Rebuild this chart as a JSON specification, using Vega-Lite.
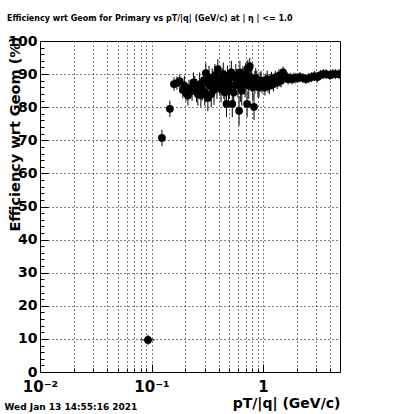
{
  "$schema": "https://vega.github.io/schema/vega-lite/v6.json",
  "width": 300,
  "height": 331,
  "autosize": "none",
  "padding": {"left": 40, "top": 41, "right": 60, "bottom": 42},
  "background": "white",
  "config": {
    "view": {"stroke": "black", "strokeWidth": 1},
    "font": "DejaVu Sans",
    "axis": {"domain": false, "grid": false, "ticks": false, "labels": false, "title": null, "tickColor": "black", "labelColor": "black", "titleColor": "black"}
  },
  "title": {
    "text": "Efficiency wrt Geom for Primary vs pT/|q| (GeV/c) at | η | <= 1.0",
    "anchor": "start",
    "frame": "group",
    "dx": -33,
    "offset": 11,
    "fontSize": 8,
    "fontWeight": "bold",
    "font": "DejaVu Sans",
    "color": "black"
  },
  "datasets": {
    "pts": [
      {"x": 0.093, "y": 9.7, "ey": 1.5},
      {"x": 0.124, "y": 70.7, "ey": 2.5},
      {"x": 0.146, "y": 79.5, "ey": 2.5},
      {"x": 0.159, "y": 87.0, "ey": 2.0},
      {"x": 0.169, "y": 87.3, "ey": 2.0},
      {"x": 0.179, "y": 87.9, "ey": 2.0},
      {"x": 0.191, "y": 85.2, "ey": 2.5},
      {"x": 0.197, "y": 86.5, "ey": 3.0},
      {"x": 0.204, "y": 84.3, "ey": 2.5},
      {"x": 0.212, "y": 83.5, "ey": 3.0},
      {"x": 0.217, "y": 85.8, "ey": 2.5},
      {"x": 0.231, "y": 84.9, "ey": 3.0},
      {"x": 0.238, "y": 87.5, "ey": 3.0},
      {"x": 0.245, "y": 86.4, "ey": 3.0},
      {"x": 0.253, "y": 85.0, "ey": 3.5},
      {"x": 0.26, "y": 84.0, "ey": 3.5},
      {"x": 0.27, "y": 87.0, "ey": 3.5},
      {"x": 0.277, "y": 83.6, "ey": 3.5},
      {"x": 0.285, "y": 85.5, "ey": 3.5},
      {"x": 0.295, "y": 88.2, "ey": 3.0},
      {"x": 0.3, "y": 84.5, "ey": 4.0},
      {"x": 0.307, "y": 90.3, "ey": 3.0},
      {"x": 0.315, "y": 87.5, "ey": 3.5},
      {"x": 0.32, "y": 82.8, "ey": 4.0},
      {"x": 0.328, "y": 89.0, "ey": 3.5},
      {"x": 0.335, "y": 86.4, "ey": 3.5},
      {"x": 0.343, "y": 84.0, "ey": 4.0},
      {"x": 0.35, "y": 88.7, "ey": 3.0},
      {"x": 0.357, "y": 87.5, "ey": 3.5},
      {"x": 0.363, "y": 85.2, "ey": 4.5},
      {"x": 0.37, "y": 89.5, "ey": 3.5},
      {"x": 0.379, "y": 88.2, "ey": 3.0},
      {"x": 0.386, "y": 86.0, "ey": 3.5},
      {"x": 0.393, "y": 91.5, "ey": 3.0},
      {"x": 0.40, "y": 88.0, "ey": 3.5},
      {"x": 0.41, "y": 87.0, "ey": 3.5},
      {"x": 0.42, "y": 85.5, "ey": 4.0},
      {"x": 0.43, "y": 88.8, "ey": 3.0},
      {"x": 0.44, "y": 90.0, "ey": 3.5},
      {"x": 0.445, "y": 86.1, "ey": 3.5},
      {"x": 0.455, "y": 84.5, "ey": 4.0},
      {"x": 0.46, "y": 88.2, "ey": 3.0},
      {"x": 0.47, "y": 81.0, "ey": 4.0},
      {"x": 0.48, "y": 89.0, "ey": 3.5},
      {"x": 0.49, "y": 85.8, "ey": 4.5},
      {"x": 0.50, "y": 86.5, "ey": 4.0},
      {"x": 0.51, "y": 88.8, "ey": 3.0},
      {"x": 0.52, "y": 90.5, "ey": 3.5},
      {"x": 0.53, "y": 81.0, "ey": 4.0},
      {"x": 0.545, "y": 84.5, "ey": 4.5},
      {"x": 0.56, "y": 86.7, "ey": 3.5},
      {"x": 0.57, "y": 89.5, "ey": 3.5},
      {"x": 0.58, "y": 88.5, "ey": 3.0},
      {"x": 0.595, "y": 87.0, "ey": 4.0},
      {"x": 0.61, "y": 78.9, "ey": 4.5},
      {"x": 0.62, "y": 90.5, "ey": 3.5},
      {"x": 0.63, "y": 86.1, "ey": 4.5},
      {"x": 0.645, "y": 85.0, "ey": 4.5},
      {"x": 0.66, "y": 89.4, "ey": 3.0},
      {"x": 0.675, "y": 88.0, "ey": 4.0},
      {"x": 0.69, "y": 87.0, "ey": 4.0},
      {"x": 0.70, "y": 90.0, "ey": 3.5},
      {"x": 0.72, "y": 81.0, "ey": 4.0},
      {"x": 0.73, "y": 91.8, "ey": 2.5},
      {"x": 0.745, "y": 86.5, "ey": 4.0},
      {"x": 0.76, "y": 92.4, "ey": 2.5},
      {"x": 0.775, "y": 89.0, "ey": 3.5},
      {"x": 0.79, "y": 88.2, "ey": 3.5},
      {"x": 0.81, "y": 86.0, "ey": 4.0},
      {"x": 0.83, "y": 80.1, "ey": 4.0},
      {"x": 0.845, "y": 87.5, "ey": 3.5},
      {"x": 0.86, "y": 88.8, "ey": 3.0},
      {"x": 0.88, "y": 88.0, "ey": 3.0},
      {"x": 0.90, "y": 86.4, "ey": 3.5},
      {"x": 0.92, "y": 86.0, "ey": 3.0},
      {"x": 0.94, "y": 87.6, "ey": 3.0},
      {"x": 0.96, "y": 88.0, "ey": 3.0},
      {"x": 0.98, "y": 86.7, "ey": 2.5},
      {"x": 1.02, "y": 87.0, "ey": 2.5},
      {"x": 1.04, "y": 86.0, "ey": 2.5},
      {"x": 1.06, "y": 87.6, "ey": 2.5},
      {"x": 1.09, "y": 88.5, "ey": 2.5},
      {"x": 1.11, "y": 87.0, "ey": 2.5},
      {"x": 1.14, "y": 86.5, "ey": 2.5},
      {"x": 1.16, "y": 87.9, "ey": 2.2},
      {"x": 1.19, "y": 88.5, "ey": 2.2},
      {"x": 1.21, "y": 87.6, "ey": 2.2},
      {"x": 1.24, "y": 87.0, "ey": 2.2},
      {"x": 1.26, "y": 88.2, "ey": 2.0},
      {"x": 1.29, "y": 89.0, "ey": 2.0},
      {"x": 1.31, "y": 88.5, "ey": 2.0},
      {"x": 1.34, "y": 87.5, "ey": 2.0},
      {"x": 1.36, "y": 88.8, "ey": 2.0},
      {"x": 1.39, "y": 89.5, "ey": 2.0},
      {"x": 1.42, "y": 88.2, "ey": 2.0},
      {"x": 1.45, "y": 88.0, "ey": 2.0},
      {"x": 1.48, "y": 89.4, "ey": 1.8},
      {"x": 1.51, "y": 90.5, "ey": 1.8},
      {"x": 1.54, "y": 90.0, "ey": 1.8},
      {"x": 1.61, "y": 89.1, "ey": 1.8},
      {"x": 1.68, "y": 88.5, "ey": 1.6},
      {"x": 1.75, "y": 88.8, "ey": 1.6},
      {"x": 1.82, "y": 88.5, "ey": 1.6},
      {"x": 1.89, "y": 88.8, "ey": 1.6},
      {"x": 1.97, "y": 88.8, "ey": 1.6},
      {"x": 2.05, "y": 88.8, "ey": 1.5},
      {"x": 2.14, "y": 89.1, "ey": 1.5},
      {"x": 2.28, "y": 88.8, "ey": 1.5},
      {"x": 2.42, "y": 88.5, "ey": 1.5},
      {"x": 2.57, "y": 88.8, "ey": 1.5},
      {"x": 2.73, "y": 89.1, "ey": 1.5},
      {"x": 2.90, "y": 89.4, "ey": 1.5},
      {"x": 3.08, "y": 89.1, "ey": 1.5},
      {"x": 3.27, "y": 89.7, "ey": 1.5},
      {"x": 3.47, "y": 90.0, "ey": 1.5},
      {"x": 3.67, "y": 90.0, "ey": 1.5},
      {"x": 3.98, "y": 89.7, "ey": 1.5},
      {"x": 4.22, "y": 90.0, "ey": 1.5},
      {"x": 4.47, "y": 90.0, "ey": 1.5},
      {"x": 4.80, "y": 90.0, "ey": 1.5}
    ],
    "xerr": [
      {"y": 9.7, "xlo": 0.080, "xhi": 0.107},
      {"y": 70.7, "xlo": 0.117, "xhi": 0.131}
    ]
  },
  "layer": [
    {
      "data": {"name": "pts"},
      "mark": {"type": "point", "opacity": 0},
      "encoding": {
        "x": {"field": "x", "type": "quantitative", "scale": {"type": "log", "domain": [0.01, 4.9]},
          "axis": {"orient": "bottom", "values": [0.01, 0.02, 0.03, 0.04, 0.05, 0.06, 0.07, 0.08, 0.09, 0.1, 0.2, 0.3, 0.4, 0.5, 0.6, 0.7, 0.8, 0.9, 1, 2, 3, 4],
            "grid": true, "gridColor": "black", "gridDash": [1, 3], "gridOpacity": 1, "gridWidth": 1,
            "labels": true, "labelExpr": "datum.value == 0.01 ? '10⁻²' : datum.value == 0.1 ? '10⁻¹' : datum.value == 1 ? '1' : ''",
            "labelOverlap": false, "labelFlush": false, "labelBound": false, "labelPadding": 7,
            "labelFont": "DejaVu Sans", "labelFontSize": 15, "labelFontWeight": "bold",
            "title": "pT/|q| (GeV/c)", "titleFont": "DejaVu Sans", "titleFontSize": 14, "titleFontWeight": "bold",
            "titleX": 300, "titleY": 35, "titleAlign": "right", "titleBaseline": "alphabetic", "titleAnchor": "end"}},
        "y": {"field": "y", "type": "quantitative", "scale": {"domain": [0, 100]},
          "axis": {"orient": "left", "values": [0, 10, 20, 30, 40, 50, 60, 70, 80, 90, 100],
            "grid": true, "gridColor": "black", "gridDash": [1, 3], "gridOpacity": 1, "gridWidth": 1,
            "labels": true, "labelPadding": 3, "labelFont": "DejaVu Sans", "labelFontSize": 14, "labelFontWeight": "bold",
            "title": "Efficiency wrt Geom (%)", "titleFont": "DejaVu Sans", "titleFontSize": 14.5, "titleFontWeight": "bold",
            "titleAngle": -90, "titleX": -25, "titleY": -5, "titleAlign": "right", "titleBaseline": "middle", "titleAnchor": "end"}}
      }
    },
    {
      "data": {"name": "pts"},
      "mark": {"type": "point", "opacity": 0},
      "encoding": {
        "x": {"field": "x", "type": "quantitative", "scale": {"type": "log", "domain": [0.01, 4.9]},
          "axis": {"orient": "bottom", "values": [0.01, 0.1, 1], "ticks": true, "tickSize": 8, "offset": -8, "tickWidth": 1}},
        "y": {"field": "y", "type": "quantitative", "scale": {"domain": [0, 100]},
          "axis": {"orient": "left", "values": [0, 10, 20, 30, 40, 50, 60, 70, 80, 90, 100], "ticks": true, "tickSize": 8, "offset": -8, "tickWidth": 1}}
      }
    },
    {
      "data": {"name": "pts"},
      "mark": {"type": "point", "opacity": 0},
      "encoding": {
        "x": {"field": "x", "type": "quantitative", "scale": {"type": "log", "domain": [0.01, 4.9]},
          "axis": {"orient": "bottom", "values": [0.02, 0.03, 0.04, 0.05, 0.06, 0.07, 0.08, 0.09, 0.2, 0.3, 0.4, 0.5, 0.6, 0.7, 0.8, 0.9, 2, 3, 4], "ticks": true, "tickSize": 4, "offset": -4, "tickWidth": 1}},
        "y": {"field": "y", "type": "quantitative", "scale": {"domain": [0, 100]},
          "axis": {"orient": "left", "values": [2, 4, 6, 8, 12, 14, 16, 18, 22, 24, 26, 28, 32, 34, 36, 38, 42, 44, 46, 48, 52, 54, 56, 58, 62, 64, 66, 68, 72, 74, 76, 78, 82, 84, 86, 88, 92, 94, 96, 98], "ticks": true, "tickSize": 4, "offset": -4, "tickWidth": 1}}
      }
    },
    {
      "data": {"name": "pts"},
      "mark": {"type": "point", "opacity": 0},
      "encoding": {
        "x": {"field": "x", "type": "quantitative", "scale": {"type": "log", "domain": [0.01, 4.9]},
          "axis": {"orient": "bottom", "title": "Wed Jan 13 14:55:16 2021", "titleFont": "DejaVu Sans", "titleFontSize": 9, "titleFontWeight": "bold",
            "titleX": -36, "titleY": 37, "titleAlign": "left", "titleBaseline": "alphabetic", "titleAnchor": "start"}},
        "y": {"field": "y", "type": "quantitative", "scale": {"domain": [0, 100]}, "axis": null}
      }
    },
    {
      "data": {"name": "pts"},
      "mark": {"type": "errorbar", "color": "black", "thickness": 1, "clip": true},
      "encoding": {
        "x": {"field": "x", "type": "quantitative", "scale": {"type": "log", "domain": [0.01, 4.9]}, "axis": null},
        "y": {"field": "y", "type": "quantitative", "scale": {"domain": [0, 100]}, "axis": null},
        "yError": {"field": "ey"}
      }
    },
    {
      "data": {"name": "xerr"},
      "mark": {"type": "rule", "color": "black", "strokeWidth": 1, "clip": true},
      "encoding": {
        "x": {"field": "xlo", "type": "quantitative", "scale": {"type": "log", "domain": [0.01, 4.9]}, "axis": null},
        "x2": {"field": "xhi"},
        "y": {"field": "y", "type": "quantitative", "scale": {"domain": [0, 100]}, "axis": null}
      }
    },
    {
      "data": {"name": "pts"},
      "mark": {"type": "circle", "color": "black", "opacity": 1, "size": 60, "clip": true},
      "encoding": {
        "x": {"field": "x", "type": "quantitative", "scale": {"type": "log", "domain": [0.01, 4.9]}, "axis": null},
        "y": {"field": "y", "type": "quantitative", "scale": {"domain": [0, 100]}, "axis": null}
      }
    }
  ],
  "resolve": {"axis": {"x": "independent", "y": "independent"}}
}
